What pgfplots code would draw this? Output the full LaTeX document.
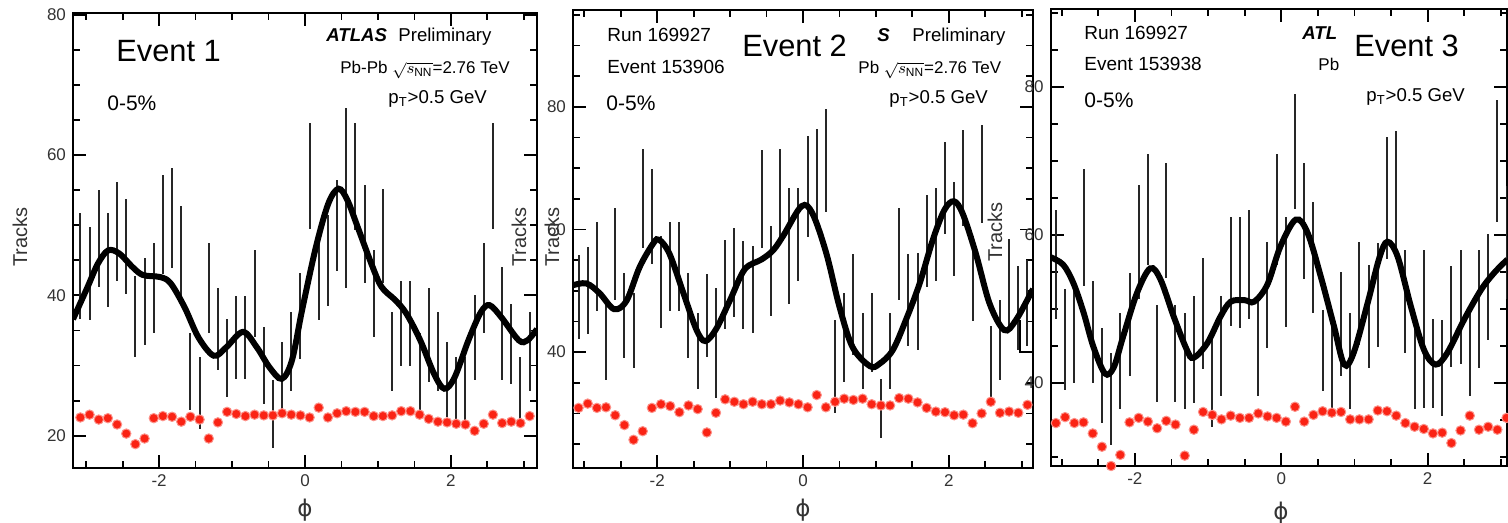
\documentclass[border=0pt]{standalone}
\usepackage{fontspec}
\setmainfont{Liberation Sans}
\newfontfamily\dejavu{DejaVu Sans}
\usepackage{pgfplots}
\usepackage{pgfplotstable}
\pgfplotsset{compat=1.18}
\definecolor{dotred}{RGB}{250,35,20}

% x = bin centre, c = centre of error bar, h = half length, r = red reference points
\pgfplotstableread{
x c h r
-3.079 44.2 7.5 22.6
-2.953 43.1 6.6 23.0
-2.827 48.1 6.9 22.3
-2.702 45.0 6.7 22.5
-2.576 49.1 7.0 21.6
-2.450 47.0 6.8 20.3
-2.325 37.0 5.8 18.8
-2.199 39.1 6.2 19.6
-2.073 41.0 6.4 22.5
-1.948 50.1 7.0 22.8
-1.822 51.0 7.1 22.7
-1.696 46.3 6.5 22.0
-1.571 29.1 5.5 22.7
-1.445 26.1 5.1 22.3
-1.319 41.0 6.4 19.6
-1.194 35.2 5.9 21.9
-1.068 31.1 5.6 23.4
-0.942 34.0 5.9 23.1
-0.817 34.0 5.9 22.8
-0.691 40.2 6.2 23.0
-0.565 30.0 5.5 22.9
-0.440 23.1 4.8 22.9
-0.314 28.2 5.1 23.2
-0.188 32.0 5.6 23.0
-0.063 37.1 6.1 22.9
0.063 57.0 7.5 22.6
0.188 42.5 6.0 24.0
0.314 45.0 6.5 22.6
0.440 50.0 6.5 23.2
0.565 53.9 12.8 23.5
0.691 56.9 7.6 23.4
0.817 48.8 7.0 23.4
0.942 40.2 6.2 22.8
1.068 48.4 6.7 22.8
1.194 32.0 5.6 22.9
1.319 36.0 6.0 23.5
1.445 36.0 6.0 23.5
1.571 29.1 5.5 23.0
1.696 34.3 6.7 22.4
1.822 32.0 5.6 22.0
1.948 28.0 5.4 21.9
2.073 26.2 5.0 21.7
2.199 26.2 5.0 21.6
2.325 34.0 6.0 20.7
2.450 41.0 6.4 21.7
2.576 57.0 7.5 23.0
2.702 36.0 8.0 21.8
2.827 33.1 5.7 22.0
2.953 26.2 5.0 21.8
3.079 32.0 5.6 22.8
}\dataA

\pgfplotstableread{
x c h r
-3.079 49.0 6.9 30.9
-2.953 50.0 7.1 31.6
-2.827 54.0 7.3 30.9
-2.702 42.0 6.5 31.0
-2.576 56.0 7.5 29.7
-2.450 46.0 6.9 28.1
-2.325 43.5 6.1 25.7
-2.199 65.1 8.1 27.1
-2.073 62.1 7.8 30.9
-1.948 51.5 7.5 31.5
-1.822 54.0 7.3 31.2
-1.696 54.0 7.3 30.2
-1.571 46.0 6.9 31.3
-1.445 40.2 6.2 30.7
-1.319 46.0 6.8 26.9
-1.194 41.5 9.0 30.1
-1.068 51.0 7.3 32.3
-0.942 53.0 7.2 31.9
-0.817 51.0 7.2 31.5
-0.691 50.2 7.1 31.9
-0.565 65.0 8.0 31.5
-0.440 53.2 7.3 31.5
-0.314 66.0 7.2 32.1
-0.188 57.3 9.5 31.8
-0.063 59.2 7.6 31.5
0.063 67.0 8.2 31.0
0.188 68.2 8.2 33.0
0.314 71.2 8.4 31.0
0.440 37.7 7.6 31.9
0.565 42.4 7.3 32.4
0.691 47.8 8.2 32.2
0.817 40.2 6.2 32.4
0.942 43.2 6.5 31.5
1.068 30.8 4.8 31.3
1.194 40.2 6.2 31.3
1.319 56.0 7.5 32.5
1.445 48.5 7.5 32.4
1.571 48.3 7.9 31.8
1.696 58.2 7.5 30.9
1.822 59.2 7.6 30.3
1.948 66.7 7.5 30.2
2.073 60.1 7.7 29.7
2.199 68.4 7.9 29.8
2.325 52.0 7.0 28.4
2.450 69.0 8.0 30.0
2.576 38.1 6.1 31.9
2.702 42.0 6.5 30.1
2.827 50.8 7.6 30.3
2.953 47.2 6.8 30.1
3.079 48.0 7.0 31.4
}\dataB

\pgfplotstableread{
x c h r
-3.079 56.0 7.4 34.6
-2.953 45.9 6.8 35.4
-2.827 46.9 6.9 34.6
-2.702 61.0 7.9 34.7
-2.576 46.9 6.9 33.2
-2.450 41.0 6.4 31.4
-2.325 37.9 6.2 28.8
-2.199 43.0 6.5 30.3
-2.073 47.9 7.0 34.7
-1.948 59.0 7.7 35.3
-1.822 63.4 7.5 34.8
-1.696 44.0 6.6 33.9
-1.571 62.0 7.8 34.9
-1.445 44.0 6.6 34.4
-1.319 43.0 6.5 30.2
-1.194 44.5 7.2 33.7
-1.068 49.4 7.5 36.1
-0.942 40.5 6.4 35.7
-0.817 45.0 6.8 35.1
-0.691 55.1 7.4 35.6
-0.565 55.0 7.5 35.3
-0.440 56.0 7.4 35.3
-0.314 45.0 6.8 35.9
-0.188 51.9 7.2 35.5
-0.063 63.4 7.5 35.3
0.063 55.0 7.4 34.8
0.188 71.3 7.8 36.8
0.314 61.9 7.9 34.8
0.440 57.0 7.5 35.7
0.565 44.4 5.5 36.2
0.691 43.0 6.5 36.0
0.817 48.0 7.0 36.1
0.942 43.0 6.5 35.1
1.068 52.1 7.0 35.1
1.194 49.0 7.0 35.1
1.319 51.9 7.0 36.3
1.445 65.0 8.2 36.2
1.571 66.0 8.0 35.6
1.696 51.0 7.0 34.6
1.822 43.0 6.5 34.1
1.948 47.3 10.7 33.8
2.073 42.6 6.0 33.2
2.199 42.0 6.5 33.3
2.325 49.0 6.8 31.9
2.450 50.3 7.7 33.6
2.576 44.3 6.1 35.6
2.702 50.0 8.0 33.7
2.827 53.0 7.2 34.1
2.953 70.0 8.3 33.7
3.079 59.0 7.6 35.3
}\dataC

\pgfplotstableread{
x y
-3.18 36.6
-2.98 41.2
-2.84 44.5
-2.70 46.4
-2.55 46.0
-2.36 44.0
-2.22 42.9
-1.98 42.6
-1.84 41.7
-1.65 38.3
-1.46 34.0
-1.25 31.4
-1.08 32.6
-0.85 34.8
-0.66 32.6
-0.49 29.8
-0.32 28.1
-0.18 30.7
-0.04 37.9
0.15 46.9
0.32 53.1
0.46 55.2
0.58 53.6
0.72 49.8
0.91 44.5
1.05 41.2
1.24 39.3
1.39 37.4
1.58 33.6
1.77 28.8
1.91 26.7
2.05 28.3
2.24 33.6
2.41 37.6
2.53 38.6
2.69 36.9
2.93 33.6
3.05 33.6
3.18 35.2
}\curveA

\pgfplotstableread{
x y
-3.155 50.9
-2.97 51.2
-2.79 49.6
-2.59 47.0
-2.42 48.4
-2.24 53.9
-2.05 57.8
-1.97 58.3
-1.83 56.0
-1.64 49.6
-1.46 43.6
-1.34 41.8
-1.19 43.8
-1.00 48.5
-0.80 53.5
-0.57 55.1
-0.41 56.6
-0.27 59.0
-0.02 63.8
0.13 62.6
0.32 56.1
0.50 47.4
0.68 40.8
0.92 37.7
1.05 38.1
1.23 40.3
1.41 45.2
1.60 51.2
1.78 58.3
1.94 63.2
2.07 64.6
2.19 62.6
2.37 56.1
2.56 47.9
2.76 43.6
2.92 45.2
3.155 50.3
}\curveB

\pgfplotstableread{
x y
-3.15 57.0
-2.98 56.0
-2.84 53.5
-2.70 49.5
-2.57 45.0
-2.41 41.3
-2.29 42.1
-2.16 46.3
-1.97 52.2
-1.79 55.5
-1.65 54.0
-1.47 49.0
-1.29 44.5
-1.20 43.4
-1.01 45.4
-0.83 49.0
-0.69 51.0
-0.50 51.2
-0.37 51.0
-0.19 53.3
-0.01 58.5
0.20 62.1
0.36 60.3
0.54 54.4
0.72 47.7
0.86 42.5
0.99 44.1
1.18 50.8
1.34 56.9
1.45 59.1
1.59 57.1
1.77 50.4
1.95 44.5
2.11 42.5
2.27 44.1
2.50 48.6
2.73 52.6
2.91 54.9
3.09 56.7
}\curveC

\pgfplotsset{
  evt/.style={
    scale only axis,
    axis line style={line width=1pt},
    every tick/.style={black, line width=0.9pt},
    major tick length=6.5pt,
    minor tick length=3.5pt,
    xtick={-2,0,2}, xticklabels={-2,0,2},
    minor xtick={-3,-2.5,-1.5,-1,-0.5,0.5,1,1.5,2.5,3},
    tick label style={font=\fontsize{8.5}{9}\selectfont, text=black!80},
  },
  bars/.style={draw=none, mark=none,
    error bars/.cd, y dir=both, y explicit, error mark=none,
    error bar style={draw=black!85, line width=1pt}},
  fit/.style={line width=3pt, black, smooth, tension=0.55},
  dots/.style={only marks, mark=*, mark size=2.35pt,
    mark options={fill=dotred, draw=dotred!50!white, line width=0.5pt}},
}

\tikzset{
  t/.style={anchor=base west, inner sep=0pt},
  f95/.style={font=\fontsize{9.5}{10}\selectfont},
  f93/.style={font=\fontsize{9.3}{10}\selectfont},
  fbi/.style={font=\fontsize{9.3}{10}\selectfont\bfseries\itshape},
  f85/.style={font=\fontsize{8.5}{9}\selectfont},
  fev/.style={font=\fontsize{15.4}{16}\selectfont},
  fpc/.style={font=\fontsize{10.5}{11}\selectfont},
  ylab/.style={rotate=90, inner sep=0pt, font=\fontsize{10}{10}\selectfont, text=black!80},
  xlab/.style={inner sep=0pt, font=\fontsize{11.5}{12}\selectfont\dejavu, text=black!80},
}

\begin{document}
\begin{tikzpicture}
\path[use as bounding box] (0,0) rectangle (754pt,261.5pt);

% ---------- Panel 1 ----------
\begin{axis}[evt, at={(36.5pt,27.5pt)}, anchor=south west,
  width=232pt, height=227.5pt,
  xmin=-3.18, xmax=3.18, ymin=15.4, ymax=80.25,
  ytick={20,40,60,80}, yticklabels={20,40,60,80},
  minor ytick={25,30,35,45,50,55,65,70,75}]
\addplot[bars] table[x=x, y=c, y error=h] {\dataA};
\addplot[fit] table[x=x, y=y] {\curveA};
\addplot[dots] table[x=x, y=r] {\dataA};
\end{axis}
\node[t, fev] at (58pt,230.5pt) {Event 1};
\node[t, fbi] at (163pt,240.5pt) {ATLAS};
\node[t, f93] at (199pt,240.5pt) {Preliminary};
\node[t, f85] at (170pt,224.5pt) {Pb-Pb $\sqrt{s_{\mathrm{NN}}}$=2.76 TeV};
\node[t, f93] at (194pt,209.5pt) {p\textsubscript{T}>0.5 GeV};
\node[t, fpc] at (53.5pt,206pt) {0-5\%};
\node[ylab] at (10pt,143pt) {Tracks};
\node[ylab] at (259.5pt,143pt) {Tracks};
\node[xlab] at (152.5pt,6.5pt) {ϕ};

% ---------- Panel 2 ----------
\begin{axis}[evt, at={(286.5pt,27.5pt)}, anchor=south west,
  width=230pt, height=229pt,
  xmin=-3.155, xmax=3.155, ymin=21.1, ymax=95.8,
  ytick={40,60,80}, yticklabels={40,60,80},
  minor ytick={25,30,35,45,50,55,65,70,75,85,90,95}]
\addplot[bars] table[x=x, y=c, y error=h] {\dataB};
\addplot[fit] table[x=x, y=y] {\curveB};
\addplot[dots] table[x=x, y=r] {\dataB};
\end{axis}
\node[t, f95] at (303.5pt,240.5pt) {Run 169927};
\node[t, f95] at (303.5pt,224.5pt) {Event 153906};
\node[t, fbi] at (438.5pt,240.5pt) {S};
\node[t, f93] at (456pt,240.5pt) {Preliminary};
\node[t, f85] at (429pt,224.5pt) {Pb $\sqrt{s_{\mathrm{NN}}}$=2.76 TeV};
\node[t, f93] at (444.5pt,209.5pt) {p\textsubscript{T}>0.5 GeV};
\node[t, fpc] at (303pt,206pt) {0-5\%};
\node[t, fev] at (371pt,233pt) {Event 2};
\node[ylab] at (276pt,143pt) {Tracks};
\node[ylab] at (497.5pt,145.5pt) {Tracks};
\node[xlab] at (401.5pt,6.5pt) {ϕ};
\draw[line width=1pt] (510pt,101.5pt) -- (510pt,85.5pt) -- (516.5pt,85.5pt);

% ---------- Panel 3 ----------
\begin{axis}[evt, at={(525.35pt,28.5pt)}, anchor=south west,
  width=228.15pt, height=228.35pt,
  xmin=-3.15, xmax=3.085, ymin=28.8, ymax=90.5,
  ytick={40,60,80}, yticklabels={40,60,80},
  minor ytick={30,35,45,50,55,65,70,75,85,90}]
\addplot[bars] table[x=x, y=c, y error=h] {\dataC};
\addplot[fit] table[x=x, y=y] {\curveC};
\addplot[dots] table[x=x, y=r] {\dataC};
\end{axis}
\node[t, f95] at (542pt,241.5pt) {Run 169927};
\node[t, f95] at (542pt,226pt) {Event 153938};
\node[t, fbi] at (651pt,241.5pt) {ATL};
\node[t, f85] at (659pt,226pt) {Pb};
\node[t, fev] at (677pt,233pt) {Event 3};
\node[t, f93] at (683pt,210.5pt) {p\textsubscript{T}>0.5 GeV};
\node[t, fpc] at (542pt,207.5pt) {0-5\%};
\node[xlab] at (640.5pt,5pt) {ϕ};
\end{tikzpicture}
\end{document}
